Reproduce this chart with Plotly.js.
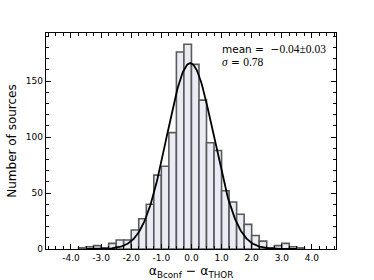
<!DOCTYPE html>
<html><head><meta charset="utf-8">
<script src="https://cdn.plot.ly/plotly-3.0.1.min.js"></script>
<style>body{margin:0;background:#fff}#c{width:374px;height:280px}</style>
</head><body><div id="c"></div>
<script>
const binWidth = 0.25;
const binStarts = [-3.75,-3.5,-3.25,-3.0,-2.75,-2.5,-2.25,-2.0,-1.75,-1.5,-1.25,-1.0,-0.75,-0.5,-0.25,0.0,0.25,0.5,0.75,1.0,1.25,1.5,1.75,2.0,2.25,2.5,2.75,3.0,3.25,3.5];
const counts =    [1,2,3,1,5,8,8,17,27,40,66,74,104,176,183,165,133,95,88,52,42,31,22,12,7,1,3,5,2,1];
const fitMean = -0.04, fitSigma = 0.78, fitPeak = 166;
const xTickVals = [-4,-3,-2,-1,0,1,2,3,4];
const xTickText = ["-4.0","-3.0","-2.0","-1.0","0.0","1.0","2.0","3.0","4.0"];

const centers = binStarts.map(b => b + binWidth/2);
const cx = [], cy = [];
for (let i = 0; i <= 280; i++) {
  const x = -3.5 + i*0.025;
  cx.push(x);
  cy.push(fitPeak*Math.exp(-0.5*Math.pow((x-fitMean)/fitSigma,2)));
}
const traces = [
  {type:'bar', x:centers, y:counts, width:binWidth,
   marker:{color:'#ebebf5', line:{color:'#5a5a5a', width:1.6}}, hoverinfo:'skip'},
  {type:'scatter', mode:'lines', x:cx, y:cy, line:{color:'#000', width:1.8}, hoverinfo:'skip'}
];
const ax = {showline:true, linecolor:'#000', linewidth:1.3, mirror:'allticks', ticks:'inside',
  ticklen:5, tickwidth:1, tickcolor:'#000', showgrid:false, zeroline:false,
  tickfont:{family:'DejaVu Sans', size:9, color:'#000'}};
const layout = {
  width:374, height:280, margin:{l:46, r:38, t:33, b:31},
  paper_bgcolor:'#fff', plot_bgcolor:'#fff', showlegend:false, bargap:0,
  xaxis:Object.assign({}, ax, {range:[-4.83,4.8], tickvals:xTickVals, ticktext:xTickText,
    minor:{dtick:0.25, tick0:0, ticks:'inside', ticklen:3, tickcolor:'#000'},
    title:{text:'α<sub>Bconf</sub> − α<sub>THOR</sub>', font:{family:'DejaVu Sans', size:12.5, color:'#000'}, standoff:2}}),
  yaxis:Object.assign({}, ax, {range:[0,193], tickvals:[0,50,100,150],
    minor:{dtick:10, tick0:0, ticks:'inside', ticklen:3, tickcolor:'#000'},
    title:{text:'Number of sources', font:{family:'DejaVu Sans', size:12, color:'#000'}, standoff:6}}),
  annotations:[
    {xref:'paper', yref:'paper', x:0.6, y:0.928, xanchor:'left', yanchor:'middle', showarrow:false,
     text:'mean =\u00a0\u00a0−<span style="font-family:Liberation Serif;font-size:11.5px">0.04±0.03</span>',
     font:{family:'DejaVu Sans', size:10.5, color:'#000'}},
    {xref:'paper', yref:'paper', x:0.6, y:0.866, xanchor:'left', yanchor:'middle', showarrow:false,
     text:'<i>σ</i><span style="font-family:DejaVu Sans;font-size:10.5px"> = </span>0.78',
     font:{family:'Liberation Serif', size:11.5, color:'#000'}}
  ]
};
Plotly.newPlot('c', traces, layout, {displayModeBar:false, staticPlot:true});
</script></body></html>
